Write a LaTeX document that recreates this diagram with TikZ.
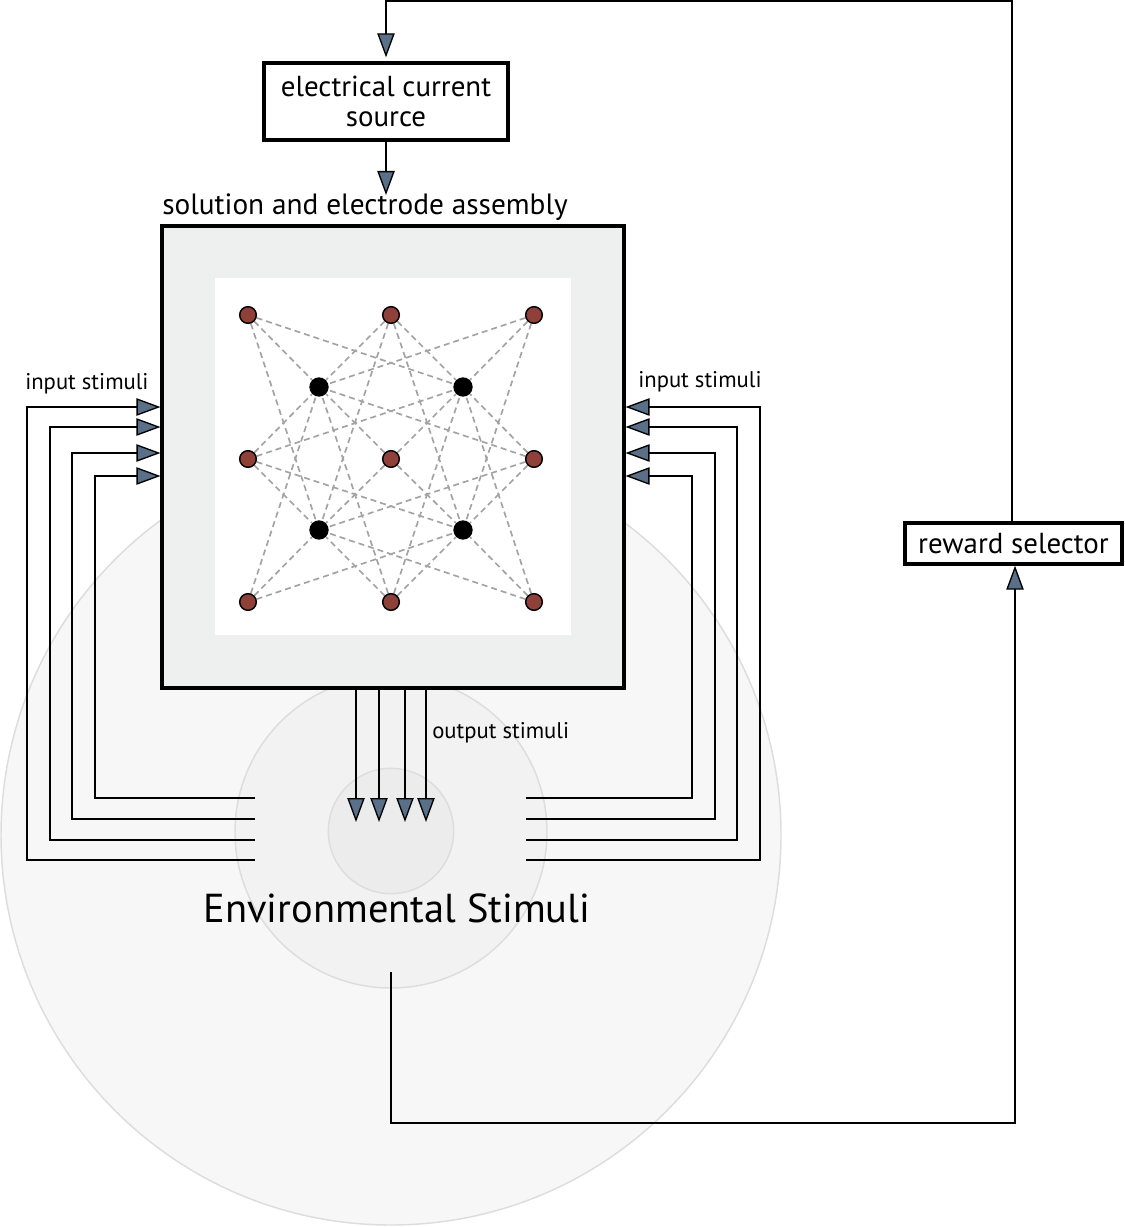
\documentclass[tikz,border=0pt]{standalone}
\usepackage{fontspec}
\setmainfont{PT Sans}
\usetikzlibrary{arrows.meta}
\pgfdeclarelayer{front}
\pgfsetlayers{main,front}
\definecolor{arrowfill}{HTML}{5A6F88}
\definecolor{brownnode}{HTML}{8E4039}
\definecolor{boxfill}{HTML}{EEF0EF}
\definecolor{dashgray}{HTML}{A3A3A3}
\definecolor{ringline}{HTML}{DDDDDD}
\definecolor{ringA}{HTML}{F7F7F7}
\definecolor{ringB}{HTML}{F2F2F2}
\definecolor{ringC}{HTML}{ECECEC}
\begin{document}
\begin{tikzpicture}[x=0.75pt,y=-0.75pt,
  wire/.style={line width=1.3pt},
  arr/.style={wire,-{Triangle[length=18pt,width=13pt,fill=arrowfill,line width=1pt]}},
  ring/.style={circle,draw=ringline,line width=1.1pt,inner sep=0pt},
  blockbox/.style={draw,line width=2.5pt,fill=white,inner sep=0pt,font=\fontsize{21.7}{22.5}\selectfont,align=center},
  lbl/.style={inner sep=0pt,font=\fontsize{17}{20}\selectfont},
  netedge/.style={draw=dashgray,line width=1.25pt,dash pattern=on 4.5pt off 3pt},
  brownpt/.style={circle,fill=brownnode,draw=black,line width=1.1pt,minimum size=12.5pt,inner sep=0pt},
  blackpt/.style={circle,fill=black,minimum size=14.5pt,inner sep=0pt}]

\useasboundingbox (0,0) rectangle (1124,1227);

% environment rings
\node[ring,fill=ringA,minimum size=585pt] (outer) at (391,835) {};
\node[ring,fill=ringB,minimum size=234pt] (middle) at (391,832) {};
\node[ring,fill=ringC,minimum size=94pt] (inner) at (391,831) {};
\node[font=\fontsize{30.3}{34}\selectfont,inner sep=0pt] (env) at (397,908) {Environmental Stimuli};

% assembly
\node[draw,line width=2.3pt,fill=boxfill,minimum width=346.5pt,minimum height=346.5pt,inner sep=0pt] (asm) at (393,457) {};
\node[fill=white,minimum width=267pt,minimum height=267.75pt,inner sep=0pt] (well) at (393,456.5) {};
\node[font=\fontsize{22}{24}\selectfont,inner sep=0pt,anchor=west] (asmlabel) at (162,207) {solution and electrode assembly};

% blocks
\node[blockbox,minimum width=183pt,minimum height=57.75pt] (ecs) at (386,101.5) {electrical current\\source};
\node[blockbox,minimum width=162.75pt,minimum height=30.75pt] (reward) at (1013.5,543.5) {reward selector};

% network nodes
\begin{pgfonlayer}{front}
\foreach \i/\x in {1/248,2/391,3/534}
  \foreach \j/\y in {1/315,2/459,3/602}
    \node[brownpt] (b\j\i) at (\x,\y) {};
\node[blackpt] (k1) at (319,387) {};
\node[blackpt] (k2) at (463,387) {};
\node[blackpt] (k3) at (319,530) {};
\node[blackpt] (k4) at (463,530) {};
\end{pgfonlayer}

\foreach \a/\b in {b11/k1,b11/k2,b11/k3,b13/k1,b13/k2,b13/k4,b31/k1,b31/k3,b31/k4,b33/k2,b33/k3,b33/k4}
  \draw[netedge] (\a) -- (\b);
\foreach \a in {b12,b21,b22,b23,b32}
  \foreach \b in {k1,k2,k3,k4}
    \draw[netedge] (\a) -- (\b);

% input stimuli
\foreach \n/\x/\yb/\yt in {1/27/860/407,2/50/840/427,3/72/819/453,4/95/798/476} {
  \coordinate (li\n) at (255,\yb);
  \coordinate (ly\n) at (0,\yt);
  \draw[arr] (li\n) -- (\x,\yb) -- (\x,\yt) -- (asm.west |- ly\n);
}
\foreach \n/\x/\yb/\yt in {1/760/860/407,2/737/840/427,3/715/819/453,4/692/798/476} {
  \coordinate (ri\n) at (526,\yb);
  \coordinate (ry\n) at (0,\yt);
  \draw[arr] (ri\n) -- (\x,\yb) -- (\x,\yt) -- (asm.east |- ry\n);
}
\node[lbl,anchor=west] (inL) at (25,384) {input stimuli};
\node[lbl,anchor=west] (inR) at (638,382) {input stimuli};

% output stimuli
\foreach \n/\x in {1/356,2/379,3/405,4/426} {
  \coordinate (o\n) at (\x,822);
  \draw[arr] (asm.south -| o\n) -- (o\n);
}
\node[lbl,anchor=west] (outl) at (432,733) {output stimuli};

% current source to assembly
\coordinate (ecsin) at (386,195);
\draw[arr] (ecs.south) -- (ecsin);

% feedback loop
\coordinate (rstart) at (391,972);
\coordinate (rc1) at (391,1123);
\coordinate (rc2) at (1015,1123);
\draw[arr] (rstart) -- (rc1) -- (rc2) -- (rc2 |- reward.south);
\coordinate (tc) at (1012,1);
\draw[arr,shorten >=3pt] (reward.north -| tc) -- (tc) -| (ecs.north);
\end{tikzpicture}
\end{document}
